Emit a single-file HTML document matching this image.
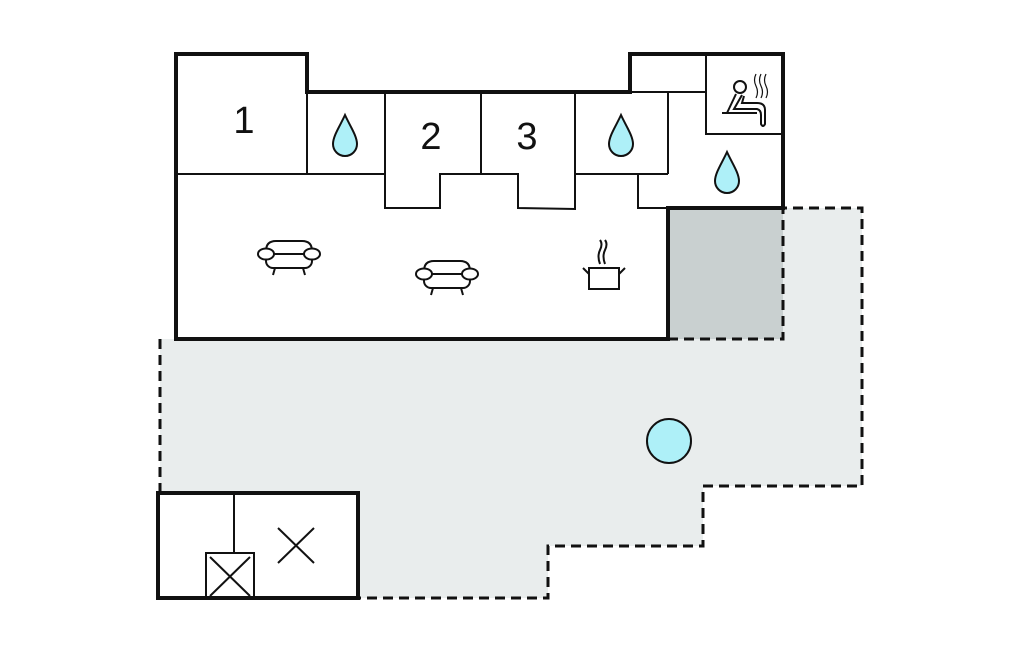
<!DOCTYPE html>
<html><head><style>body{margin:0;background:#fff}svg{display:block}</style></head><body>
<svg width="1024" height="652" viewBox="0 0 1024 652" xmlns="http://www.w3.org/2000/svg">
<defs>
<g id="sofa" fill="#fff" stroke="#111" stroke-width="2">
<path d="M4 17 L4 10 Q4 0 14 0 L40 0 Q50 0 50 10 L50 17"/>
<rect x="4" y="13" width="46" height="14" rx="7"/>
<ellipse cx="4" cy="13" rx="8" ry="5.5"/>
<ellipse cx="50" cy="13" rx="8" ry="5.5"/>
<line x1="13" y1="27" x2="11" y2="34"/><line x1="41" y1="27" x2="43" y2="34"/>
</g>
<path id="drop" d="M0 -21 C5 -10 12 0 12 8 A12 12 0 0 1 -12 8 C-12 0 -5 -10 0 -21 Z" fill="#aef0f8" stroke="#111" stroke-width="2"/>
</defs>
<polygon points="160,339 783,339 783,208 862,208 862,486 703,486 703,546 548,546 548,598 358,598 358,493 160,493" fill="#e9eded"/>
<rect x="668" y="208" width="115" height="131" fill="#c9d0d0"/>
<polygon points="176,54 307,54 307,92 630,92 630,54 783,54 783,208 668,208 668,339 176,339" fill="#fff"/>
<g fill="none" stroke="#111" stroke-width="3" stroke-dasharray="10,6">
<polyline points="668,339 783,339 783,208 862,208 862,486 703,486 703,546 548,546 548,598 358,598"/>
<polyline points="160,339 160,493"/>
</g>
<g fill="none" stroke="#111" stroke-width="2">
<line x1="176" y1="174" x2="385" y2="174"/>
<line x1="307" y1="92" x2="307" y2="174"/>
<polyline points="385,92 385,208 440,208 440,174 518,174 518,208 575,209 575,92"/>
<line x1="481" y1="92" x2="481" y2="174"/>
<line x1="575" y1="174" x2="668" y2="174"/>
<line x1="668" y1="92" x2="668" y2="174"/>
<polyline points="638,174 638,208 668,208"/>
<line x1="630" y1="92" x2="706" y2="92"/>
<polyline points="706,54 706,134 783,134"/>
</g>
<polygon points="176,54 307,54 307,92 630,92 630,54 783,54 783,208 668,208 668,339 176,339" fill="none" stroke="#111" stroke-width="4"/>
<rect x="158" y="493" width="200" height="105" fill="#fff" stroke="#111" stroke-width="4"/>
<g stroke="#111" stroke-width="2" fill="none">
<line x1="234" y1="493" x2="234" y2="553"/>
<rect x="206" y="553" width="48" height="45"/>
<line x1="210" y1="557" x2="250" y2="596"/><line x1="250" y1="557" x2="210" y2="596"/>
<line x1="278" y1="528" x2="314" y2="563"/><line x1="314" y1="528" x2="278" y2="563"/>
</g>
<ellipse cx="669" cy="441" rx="22" ry="22" fill="#aef0f8" stroke="#111" stroke-width="2"/>
<g font-family="Liberation Sans, sans-serif" font-size="38" fill="#111" text-anchor="middle">
<text x="244" y="133">1</text><text x="431" y="149">2</text><text x="527" y="149">3</text>
</g>
<use href="#drop" x="345" y="136"/>
<use href="#drop" x="621" y="136"/>
<use href="#drop" x="727" y="173"/>
<use href="#sofa" x="262" y="241"/>
<use href="#sofa" x="420" y="261"/>
<g stroke="#111" stroke-width="2" fill="none">
<rect x="589" y="268" width="30" height="21" fill="#fff"/>
<path d="M589 274 L583 268 M619 274 L625 268"/>
<path d="M600 264 Q597 256 600 250 Q603 244 600 240 M605 264 Q602 256 605 250 Q608 244 605 240"/>
<circle cx="740" cy="87" r="6"/>
<path d="M736 94 L727 113 M742 95 L734 109 L757 109 Q761 110 761 115 L761 124 Q763 128 765 124 L765 110 Q765 103 757 103 L742 103 L744 96"/>
<line x1="722" y1="113" x2="757" y2="113"/>
<path d="M756 74 Q753 80 756 86 Q759 92 756 98 M761 74 Q758 80 761 86 Q764 92 761 98 M766 74 Q763 80 766 86 Q769 92 766 98" stroke-width="1.2"/>
</g>
</svg>
</body></html>
